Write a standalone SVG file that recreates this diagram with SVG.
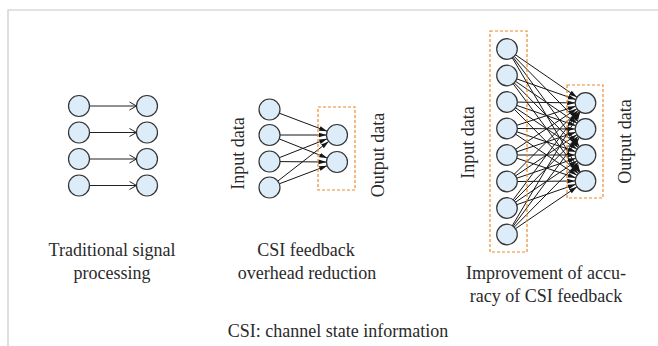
<svg xmlns="http://www.w3.org/2000/svg" width="658" height="346" viewBox="0 0 658 346">
  <style>
    .frame { stroke: #c8c8c8; stroke-width: 1.2; fill: none; }
    .node { fill: #dcedf9; stroke: #333; stroke-width: 1.2; }
    .box { fill: none; stroke: #ee8a2a; stroke-width: 1.2; stroke-dasharray: 3 2; }
    .wire { stroke: #151515; stroke-width: 1; fill: none; marker-end: url(#head); }
    .pass { stroke: #222; stroke-width: 1; fill: none; marker-end: url(#open); }
    text { font-family: "Liberation Serif", "Times New Roman", serif; font-size: 18px; fill: #2a2a2a; }
    .mid { text-anchor: middle; }
  </style>
  <defs>
    <marker id="head" viewBox="0 -3 8 6" refX="8" refY="0" markerWidth="8" markerHeight="6" markerUnits="userSpaceOnUse" orient="auto">
      <path d="M0,-2.4 L8,0 L0,2.4 z" fill="#151515"/>
    </marker>
    <marker id="open" viewBox="-1 -5 9 10" refX="7" refY="0" markerWidth="9" markerHeight="10" markerUnits="userSpaceOnUse" orient="auto">
      <path d="M0,-4 L7,0 L0,4" fill="none" stroke="#222" stroke-width="1"/>
    </marker>
  </defs>

  <!-- page frame -->
  <path class="frame" d="M8,346 L8,10 L658,10"/>

  <!-- connectors -->
  <g id="connectors">
    <!-- traditional: one-to-one -->
    <line class="pass" x1="89.5" y1="106" x2="136.5" y2="106"/>
    <line class="pass" x1="89.5" y1="132.5" x2="136.5" y2="132.5"/>
    <line class="pass" x1="89.5" y1="159" x2="136.5" y2="159"/>
    <line class="pass" x1="89.5" y1="185.5" x2="136.5" y2="185.5"/>

    <!-- overhead reduction: 4 -> 2 -->
    <line class="wire" x1="279.3" y1="113.2" x2="327.2" y2="131.3"/>
    <line class="wire" x1="280" y1="135" x2="326.5" y2="135"/>
    <line class="wire" x1="279.2" y1="138.9" x2="327.3" y2="158.1"/>
    <line class="wire" x1="279.3" y1="157.7" x2="327.2" y2="138.8"/>
    <line class="wire" x1="280" y1="161.6" x2="326.5" y2="162"/>
    <line class="wire" x1="277.8" y1="181.1" x2="328.7" y2="141.4"/>
    <line class="wire" x1="279.3" y1="183.8" x2="327.2" y2="165.7"/>

    <!-- accuracy improvement: 8 -> 4, fully connected -->
    <line class="wire" x1="515.5" y1="54.8" x2="577.0" y2="97.2"/>
    <line class="wire" x1="514.2" y1="56.4" x2="578.3" y2="121.7"/>
    <line class="wire" x1="513.1" y1="57.3" x2="579.4" y2="146.7"/>
    <line class="wire" x1="512.3" y1="57.9" x2="580.2" y2="172.2"/>

    <line class="wire" x1="516.7" y1="78.9" x2="575.8" y2="99.6"/>
    <line class="wire" x1="515.5" y1="81.3" x2="577.0" y2="123.2"/>
    <line class="wire" x1="514.2" y1="82.8" x2="578.3" y2="147.7"/>
    <line class="wire" x1="513.2" y1="83.8" x2="579.4" y2="172.7"/>

    <line class="wire" x1="517.3" y1="102.1" x2="575.2" y2="102.9"/>
    <line class="wire" x1="516.7" y1="105.4" x2="575.8" y2="125.7"/>
    <line class="wire" x1="515.5" y1="107.8" x2="577.0" y2="149.2"/>
    <line class="wire" x1="514.3" y1="109.3" x2="578.2" y2="173.7"/>

    <line class="wire" x1="516.8" y1="125.3" x2="575.7" y2="106.2"/>
    <line class="wire" x1="517.3" y1="128.5" x2="575.2" y2="129"/>
    <line class="wire" x1="516.8" y1="131.8" x2="575.7" y2="151.7"/>
    <line class="wire" x1="515.6" y1="134.2" x2="576.9" y2="175.3"/>

    <line class="wire" x1="515.6" y1="149.3" x2="576.9" y2="108.7"/>
    <line class="wire" x1="516.8" y1="151.8" x2="575.7" y2="132.2"/>
    <line class="wire" x1="517.3" y1="155" x2="575.2" y2="155"/>
    <line class="wire" x1="516.8" y1="158.2" x2="575.7" y2="177.8"/>

    <line class="wire" x1="514.3" y1="174.2" x2="578.2" y2="110.3"/>
    <line class="wire" x1="515.6" y1="175.8" x2="576.9" y2="134.7"/>
    <line class="wire" x1="516.8" y1="178.2" x2="575.7" y2="158.3"/>
    <line class="wire" x1="517.3" y1="181.5" x2="575.2" y2="181"/>

    <line class="wire" x1="513.2" y1="199.8" x2="579.3" y2="111.3"/>
    <line class="wire" x1="514.3" y1="200.7" x2="578.2" y2="136.3"/>
    <line class="wire" x1="515.5" y1="202.2" x2="577.0" y2="160.8"/>
    <line class="wire" x1="516.7" y1="204.7" x2="575.8" y2="184.3"/>

    <line class="wire" x1="512.3" y1="225.7" x2="580.2" y2="111.8"/>
    <line class="wire" x1="513.2" y1="226.2" x2="579.4" y2="137.3"/>
    <line class="wire" x1="514.2" y1="227.2" x2="578.3" y2="162.3"/>
    <line class="wire" x1="515.5" y1="228.7" x2="577.0" y2="186.8"/>
  </g>

  <!-- traditional signal processing -->
  <g id="traditional">
    <circle class="node" cx="79" cy="106" r="10.5"/>
    <circle class="node" cx="79" cy="132.5" r="10.5"/>
    <circle class="node" cx="79" cy="159" r="10.5"/>
    <circle class="node" cx="79" cy="185.5" r="10.5"/>
    <circle class="node" cx="147" cy="106" r="10.5"/>
    <circle class="node" cx="147" cy="132.5" r="10.5"/>
    <circle class="node" cx="147" cy="159" r="10.5"/>
    <circle class="node" cx="147" cy="185.5" r="10.5"/>
    <text class="mid" x="112" y="256">Traditional signal</text>
    <text class="mid" x="112" y="279">processing</text>
  </g>

  <!-- CSI feedback overhead reduction -->
  <g id="overhead-reduction">
    <rect class="box" x="318" y="107" width="37" height="83"/>
    <circle class="node" cx="269.5" cy="109.5" r="10.5"/>
    <circle class="node" cx="269.5" cy="135" r="10.5"/>
    <circle class="node" cx="269.5" cy="161.5" r="10.5"/>
    <circle class="node" cx="269.5" cy="187.5" r="10.5"/>
    <circle class="node" cx="337" cy="135" r="10.5"/>
    <circle class="node" cx="337" cy="162" r="10.5"/>
    <text class="mid" transform="translate(244 153.5) rotate(-90)">Input data</text>
    <text class="mid" transform="translate(384 155) rotate(-90)">Output data</text>
    <text class="mid" x="306" y="256">CSI feedback</text>
    <text class="mid" x="307" y="279">overhead reduction</text>
  </g>

  <!-- improvement of accuracy of CSI feedback -->
  <g id="accuracy-improvement">
    <rect class="box" x="490" y="31" width="37" height="221"/>
    <rect class="box" x="567" y="85" width="36" height="113"/>
    <circle class="node" cx="507" cy="49" r="10.3"/>
    <circle class="node" cx="507" cy="75.5" r="10.3"/>
    <circle class="node" cx="507" cy="102" r="10.3"/>
    <circle class="node" cx="507" cy="128.5" r="10.3"/>
    <circle class="node" cx="507" cy="155" r="10.3"/>
    <circle class="node" cx="507" cy="181.5" r="10.3"/>
    <circle class="node" cx="507" cy="208" r="10.3"/>
    <circle class="node" cx="507" cy="234.5" r="10.3"/>
    <circle class="node" cx="585.5" cy="103" r="10.3"/>
    <circle class="node" cx="585.5" cy="129" r="10.3"/>
    <circle class="node" cx="585.5" cy="155" r="10.3"/>
    <circle class="node" cx="585.5" cy="181" r="10.3"/>
    <text class="mid" transform="translate(474 142.5) rotate(-90)">Input data</text>
    <text class="mid" transform="translate(631 141.5) rotate(-90)">Output data</text>
    <text class="mid" x="546" y="279">Improvement of accu-</text>
    <text class="mid" x="546" y="302">racy of CSI feedback</text>
  </g>

  <!-- footnote -->
  <text class="mid" x="338" y="337">CSI: channel state information</text>
</svg>
